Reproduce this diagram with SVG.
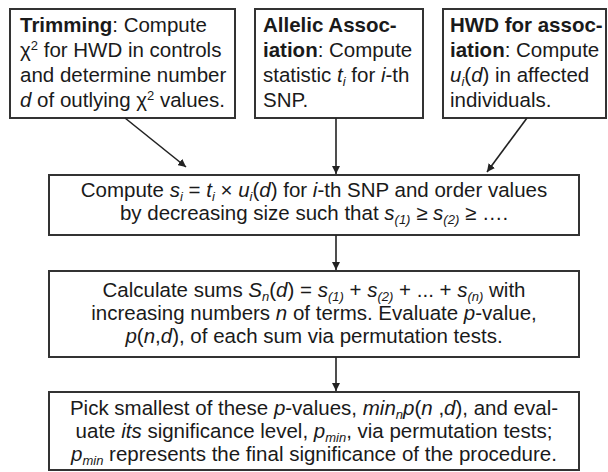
<svg xmlns="http://www.w3.org/2000/svg" width="608" height="472" viewBox="0 0 608 472">
<defs>
<marker id="ah" viewBox="0 0 10 10" refX="10" refY="5" markerWidth="8" markerHeight="8" orient="auto" markerUnits="userSpaceOnUse">
<path d="M0,0 L10,5 L0,10 z" fill="#222"/>
</marker>
<style>
.box{fill:#fff;stroke:#333;stroke-width:2}
.t{font-family:"Liberation Sans",Arial,sans-serif;font-size:20.5px;fill:#1a1a1a}
.b{font-weight:bold}
.i{font-style:italic}
.c{text-anchor:middle}
.sub{font-size:13px;font-style:italic}
.conn{stroke:#222;stroke-width:1.6;fill:none;marker-end:url(#ah)}
</style>
</defs>
<rect width="608" height="472" fill="#fff"/>
<g id="trimming">
<rect class="box" x="10" y="9" width="225" height="109"/>
<text class="t" x="20" y="32"><tspan class="b">Trimming</tspan>: Compute</text>
<text class="t" x="20" y="57">χ<tspan font-size="13" dy="-7">2</tspan><tspan dy="7"> for HWD in controls</tspan></text>
<text class="t" x="20" y="82">and determine number</text>
<text class="t" x="20" y="107"><tspan class="i">d</tspan> of outlying χ<tspan font-size="13" dy="-7">2</tspan><tspan dy="7"> values.</tspan></text>
</g>
<g id="allelic">
<rect class="box" x="255" y="9" width="168" height="109"/>
<text class="t b" x="263" y="32">Allelic Assoc-</text>
<text class="t" x="263" y="57"><tspan class="b">iation</tspan>: Compute</text>
<text class="t" x="263" y="82">statistic <tspan class="i">t</tspan><tspan class="sub" dy="4">i</tspan><tspan dy="-4"> for </tspan><tspan class="i">i</tspan>-th</text>
<text class="t" x="263" y="107">SNP.</text>
</g>
<g id="hwd">
<rect class="box" x="443" y="9" width="163" height="109"/>
<text class="t b" x="450" y="32">HWD for assoc-</text>
<text class="t" x="450" y="57"><tspan class="b">iation</tspan>: Compute</text>
<text class="t" x="450" y="82"><tspan class="i">u</tspan><tspan class="sub" dy="4">i</tspan><tspan dy="-4">(</tspan><tspan class="i">d</tspan>) in affected</text>
<text class="t" x="450" y="107">individuals.</text>
</g>
<g id="compute">
<rect class="box" x="49" y="175" width="530" height="60"/>
<text class="t c" x="314" y="197">Compute <tspan class="i">s</tspan><tspan class="sub" dy="4">i</tspan><tspan dy="-4"> = </tspan><tspan class="i">t</tspan><tspan class="sub" dy="4">i</tspan><tspan dy="-4"> × </tspan><tspan class="i">u</tspan><tspan class="sub" dy="4">i</tspan><tspan dy="-4">(</tspan><tspan class="i">d</tspan>) for <tspan class="i">i</tspan>-th SNP and order values</text>
<text class="t c" x="314" y="220">by decreasing size such that <tspan class="i">s</tspan><tspan class="sub" dy="4">(1)</tspan><tspan dy="-4"> ≥ </tspan><tspan class="i">s</tspan><tspan class="sub" dy="4">(2)</tspan><tspan dy="-4"> ≥ ….</tspan></text>
</g>
<g id="calculate">
<rect class="box" x="49" y="271" width="530" height="86"/>
<text class="t c" x="314" y="297">Calculate sums <tspan class="i">S</tspan><tspan class="sub" dy="4">n</tspan><tspan dy="-4">(</tspan><tspan class="i">d</tspan>) = <tspan class="i">s</tspan><tspan class="sub" dy="4">(1)</tspan><tspan dy="-4"> + </tspan><tspan class="i">s</tspan><tspan class="sub" dy="4">(2)</tspan><tspan dy="-4"> + ... + </tspan><tspan class="i">s</tspan><tspan class="sub" dy="4">(n)</tspan><tspan dy="-4"> with</tspan></text>
<text class="t c" x="314" y="320">increasing numbers <tspan class="i">n</tspan> of terms. Evaluate <tspan class="i">p</tspan>-value,</text>
<text class="t c" x="314" y="343"><tspan class="i">p</tspan>(<tspan class="i">n</tspan>,<tspan class="i">d</tspan>), of each sum via permutation tests.</text>
</g>
<g id="pick">
<rect class="box" x="49" y="392" width="530" height="78"/>
<text class="t c" x="314" y="415">Pick smallest of these <tspan class="i">p</tspan>-values, <tspan class="i">min</tspan><tspan class="sub" dy="4">n</tspan><tspan class="i" dy="-4">p</tspan>(<tspan class="i">n</tspan> ,<tspan class="i">d</tspan>), and eval-</text>
<text class="t c" x="314" y="438">uate <tspan class="i">its</tspan> significance level, <tspan class="i">p</tspan><tspan class="sub" dy="4">min</tspan><tspan dy="-4">, via permutation tests;</tspan></text>
<text class="t c" x="314" y="461"><tspan class="i">p</tspan><tspan class="sub" dy="4">min</tspan><tspan dy="-4"> represents the final significance of the procedure.</tspan></text>
</g>
<g id="connectors">
<line class="conn" x1="125" y1="118" x2="186" y2="167"/>
<line class="conn" x1="336" y1="118" x2="336" y2="174"/>
<line class="conn" x1="527" y1="118" x2="487" y2="172"/>
<line class="conn" x1="336" y1="235" x2="336" y2="270"/>
<line class="conn" x1="336" y1="357" x2="336" y2="391"/>
</g>
</svg>
